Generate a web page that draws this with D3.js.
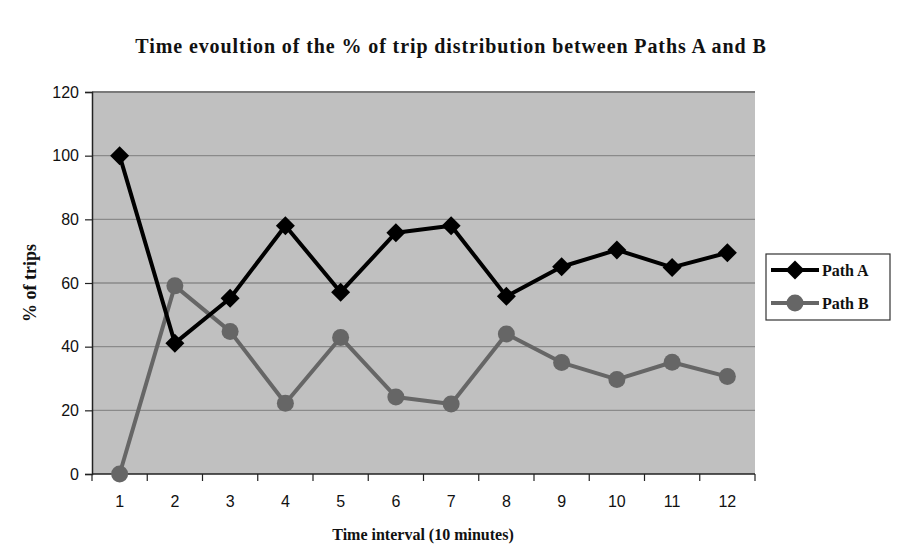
<!DOCTYPE html>
<html>
<head>
<meta charset="utf-8">
<script src="https://cdn.jsdelivr.net/npm/d3@7"></script>
<style>
  html, body { margin: 0; padding: 0; background: #fff; }
  svg { display: block; }
</style>
</head>
<body>
<svg id="chart" width="901" height="548"></svg>
<script>
// Time intervals (10 minutes each)
const intervals = [1, 2, 3, 4, 5, 6, 7, 8, 9, 10, 11, 12];
// Share of trips (%) on each path
const pathA = [100, 41.1, 55.2, 78.0, 57.1, 75.8, 78.0, 55.8, 65.1, 70.4, 64.9, 69.5];
const pathB = [0, 59.1, 44.8, 22.2, 42.9, 24.2, 22.0, 44.0, 35.0, 29.7, 35.1, 30.6];
const yTicks = [0, 20, 40, 60, 80, 100, 120];
const seriesNames = ["Path A", "Path B"];

const svg = d3.select("#chart");
const plot = { left: 92, right: 755, top: 92, bottom: 474 };

const x = d3.scaleBand().domain(intervals).range([plot.left, plot.right]).padding(0);
const y = d3.scaleLinear().domain([0, 120]).range([plot.bottom, plot.top]);

// Plot background
svg.append("rect")
  .attr("x", plot.left).attr("y", plot.top)
  .attr("width", plot.right - plot.left).attr("height", plot.bottom - plot.top)
  .attr("fill", "#c0c0c0");

// Horizontal gridlines
svg.append("g").selectAll("line").data(yTicks.filter(d => d > 0)).join("line")
  .attr("x1", plot.left).attr("x2", plot.right)
  .attr("y1", d => y(d)).attr("y2", d => y(d))
  .attr("stroke", d => d === 120 ? "#7a7a7a" : "#8a8a8a")
  .attr("stroke-width", d => d === 120 ? 2 : 1.3);

// Y axis
const yAxis = svg.append("g")
  .attr("transform", `translate(${plot.left},0)`)
  .call(d3.axisLeft(y).tickValues(yTicks).tickSize(7).tickPadding(6));
yAxis.select(".domain").attr("stroke", "#222").attr("stroke-width", 1.5);
yAxis.selectAll(".tick line").attr("stroke", "#222").attr("stroke-width", 1.2);
yAxis.selectAll("text")
  .attr("font-family", "Liberation Sans, Arial, sans-serif")
  .attr("font-size", 16).attr("fill", "#111");

// X axis: ticks sit on category boundaries, labels at category centres
const bounds = d3.range(intervals.length + 1).map(i => plot.left + i * x.bandwidth());
const xg = svg.append("g");
xg.append("line")
  .attr("x1", plot.left).attr("x2", plot.right)
  .attr("y1", plot.bottom).attr("y2", plot.bottom)
  .attr("stroke", "#222").attr("stroke-width", 1.5);
xg.selectAll("line.tk").data(bounds).join("line").attr("class", "tk")
  .attr("x1", d => d).attr("x2", d => d)
  .attr("y1", plot.bottom).attr("y2", plot.bottom + 7)
  .attr("stroke", "#222").attr("stroke-width", 1.2);
xg.selectAll("text").data(intervals).join("text")
  .attr("x", d => x(d) + x.bandwidth() / 2)
  .attr("y", plot.bottom + 33)
  .attr("text-anchor", "middle")
  .attr("font-family", "Liberation Sans, Arial, sans-serif")
  .attr("font-size", 16).attr("fill", "#111")
  .text(d => d);

const cx = d => x(d) + x.bandwidth() / 2;
const line = d3.line().x(d => cx(d.t)).y(d => y(d.v));

const dataA = intervals.map((t, i) => ({ t, v: pathA[i] }));
const dataB = intervals.map((t, i) => ({ t, v: pathB[i] }));

const colA = "#000000", colB = "#666666";
const diamond = d3.symbol().type(d3.symbolDiamond2).size(230);

// Path B (drawn first, below Path A)
svg.append("path").datum(dataB)
  .attr("d", line).attr("fill", "none")
  .attr("stroke", colB).attr("stroke-width", 4).attr("stroke-linejoin", "round");
svg.append("g").selectAll("circle").data(dataB).join("circle")
  .attr("cx", d => cx(d.t)).attr("cy", d => y(d.v)).attr("r", 8.5)
  .attr("fill", colB);

// Path A
svg.append("path").datum(dataA)
  .attr("d", line).attr("fill", "none")
  .attr("stroke", colA).attr("stroke-width", 4).attr("stroke-linejoin", "round");
svg.append("g").selectAll("path").data(dataA).join("path")
  .attr("transform", d => `translate(${cx(d.t)},${y(d.v)})`)
  .attr("d", diamond).attr("fill", colA);

// Title
svg.append("text")
  .attr("x", 451).attr("y", 53)
  .attr("text-anchor", "middle")
  .attr("font-family", "Liberation Serif, Times New Roman, serif")
  .attr("font-weight", "bold").attr("font-size", 20)
  .attr("letter-spacing", 0.9).attr("fill", "#111")
  .text("Time evoultion of the % of trip distribution between Paths A and B");

// Axis titles
svg.append("text")
  .attr("x", 423).attr("y", 540)
  .attr("text-anchor", "middle")
  .attr("font-family", "Liberation Serif, Times New Roman, serif")
  .attr("font-weight", "bold").attr("font-size", 16).attr("fill", "#111")
  .text("Time interval (10 minutes)");
svg.append("text")
  .attr("transform", "translate(36,283) rotate(-90)")
  .attr("text-anchor", "middle")
  .attr("font-family", "Liberation Serif, Times New Roman, serif")
  .attr("font-weight", "bold").attr("font-size", 18).attr("fill", "#111")
  .text("% of trips");

// Legend
const legend = svg.append("g");
legend.append("rect")
  .attr("x", 766).attr("y", 254).attr("width", 124).attr("height", 66)
  .attr("fill", "#fff").attr("stroke", "#333").attr("stroke-width", 1.2);
const legRows = [
  { name: seriesNames[0], color: colA, kind: "diamond", yy: 270 },
  { name: seriesNames[1], color: colB, kind: "circle", yy: 303 }
];
legRows.forEach(r => {
  legend.append("line")
    .attr("x1", 771).attr("x2", 819).attr("y1", r.yy).attr("y2", r.yy)
    .attr("stroke", r.color).attr("stroke-width", 4);
  if (r.kind === "diamond") {
    legend.append("path").attr("transform", `translate(795,${r.yy})`)
      .attr("d", diamond).attr("fill", r.color);
  } else {
    legend.append("circle").attr("cx", 795).attr("cy", r.yy).attr("r", 8.5).attr("fill", r.color);
  }
  legend.append("text")
    .attr("x", 822).attr("y", r.yy + 5.5)
    .attr("font-family", "Liberation Serif, Times New Roman, serif")
    .attr("font-weight", "bold").attr("font-size", 16).attr("fill", "#111")
    .text(r.name);
});
</script>
</body>
</html>
